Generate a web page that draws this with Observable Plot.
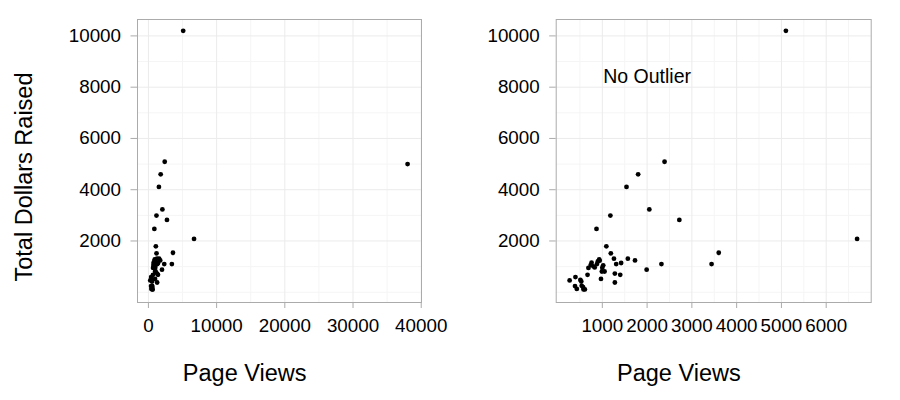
<!DOCTYPE html>
<html>
<head>
<meta charset="utf-8">
<script src="https://cdn.jsdelivr.net/npm/d3@7"></script>
<script src="https://cdn.jsdelivr.net/npm/@observablehq/plot@0.6"></script>
<style>
  html, body { margin: 0; padding: 0; background: #fff; }
  #chart { display: flex; width: 900px; height: 400px; }
  #chart svg { display: block; }
</style>
</head>
<body>
<div id="chart"></div>
<script>
// Page views and total dollars raised (one entry per campaign)
const pageViews = [5100, 38000, 6690, 2390, 1800, 1540, 2050, 2720, 1180, 870,
  1090, 1190, 1260, 1570, 1730, 1310, 1420, 2320, 3440, 3600,
  1990, 1280, 1400, 1280, 1020, 930, 900, 830, 760, 740,
  690, 670, 990, 1050, 970, 270, 400, 510, 530, 390,
  430, 570, 580, 610, 540, 940, 880, 800, 1000];
const dollarsRaised = [10200, 5000, 2080, 5090, 4600, 4110, 3230, 2820, 2990, 2470,
  1790, 1520, 1310, 1310, 1240, 1100, 1140, 1100, 1100, 1540,
  880, 730, 680, 380, 1050, 1280, 1200, 970, 1150, 1060,
  950, 680, 810, 810, 520, 460, 590, 480, 420, 240,
  130, 200, 110, 110, 250, 1230, 1100, 1010, 960];

const yTicks = [2000, 4000, 6000, 8000, 10000];
const yMinor = [0, 1000, 3000, 5000, 7000, 9000];
const xTicksAll = [0, 10000, 20000, 30000, 40000];
const xMinorAll = [5000, 15000, 25000, 35000];
const xTicksNo = [1000, 2000, 3000, 4000, 5000, 6000];
const xMinorNo = [500, 1500, 2500, 3500, 4500, 5500, 6500];

const xLabel = "Page Views";
const yLabel = "Total Dollars Raised";
const annotationText = ["No Outlier"];
const annotationPos = [{views: 2000, dollars: 8400}];

const points = pageViews.map((v, i) => ({views: v, dollars: dollarsRaised[i]}));
const outlierViews = d3.max(pageViews);
const pointsNoOutlier = points.filter(d => d.views !== outlierViews);

const FONT = "'Liberation Sans', Arial, Helvetica, sans-serif";
const GRID_MAJOR = "#ebebeb";
const GRID_MINOR = "#f5f5f5";
const FRAME = "#ababab";
const fmt = d3.format("d");

function panel({data, xDomain, xTicks, xMinor, marginLeft, marginRight, withYLabel, annotate}) {
  const marks = [
    Plot.ruleX(xMinor, {x: d => d, stroke: GRID_MINOR, strokeWidth: 1}),
    Plot.ruleY(yMinor, {y: d => d, stroke: GRID_MINOR, strokeWidth: 1}),
    Plot.ruleX(xTicks, {x: d => d, stroke: GRID_MAJOR, strokeWidth: 1}),
    Plot.ruleY(yTicks, {y: d => d, stroke: GRID_MAJOR, strokeWidth: 1}),
    Plot.frame({stroke: FRAME, strokeWidth: 1}),
    Plot.axisX(xTicks, {tickSize: 6, tickPadding: 10, stroke: FRAME, fill: "black",
      fontSize: 18.8, tickFormat: fmt, label: null}),
    Plot.axisY(yTicks, {tickSize: 6.5, tickPadding: 10, stroke: FRAME, fill: "black",
      fontSize: 18.8, tickFormat: fmt, label: null}),
    Plot.dot(data, {x: "views", y: "dollars", r: 2.4, fill: "black", stroke: null}),
    Plot.text([xLabel], {text: d => d, frameAnchor: "bottom", dx: -34.8, dy: 71,
      fontSize: 23.5, fill: "black", lineAnchor: "middle", textAnchor: "middle"})
  ];
  if (withYLabel) {
    marks.push(Plot.text([yLabel], {text: d => d, frameAnchor: "left", rotate: -90,
      dx: -112.8, dy: 16, fontSize: 23.5, fill: "black", lineAnchor: "middle", textAnchor: "middle"}));
  }
  if (annotate) {
    marks.push(Plot.text(annotationPos, {x: "views", y: "dollars", text: () => annotationText[0],
      fontSize: 19.5, fill: "black", lineAnchor: "middle", textAnchor: "middle"}));
  }
  return Plot.plot({
    width: 450,
    height: 400,
    marginLeft,
    marginRight,
    marginTop: 19,
    marginBottom: 98,
    x: {domain: xDomain},
    y: {domain: [-400, 10640]},
    style: {fontFamily: FONT, fontSize: "18.8px", color: "black", background: "white", overflow: "visible"},
    marks
  });
}

const chart = document.getElementById("chart");
chart.appendChild(panel({
  data: points, xDomain: [-1600, 40040], xTicks: xTicksAll, xMinor: xMinorAll,
  marginLeft: 137, marginRight: 29, withYLabel: true, annotate: false
}));
chart.appendChild(panel({
  data: pointsNoOutlier, xDomain: [-30, 7005], xTicks: xTicksNo, xMinor: xMinorNo,
  marginLeft: 105.7, marginRight: 29.3, withYLabel: false, annotate: true
}));
</script>
</body>
</html>
